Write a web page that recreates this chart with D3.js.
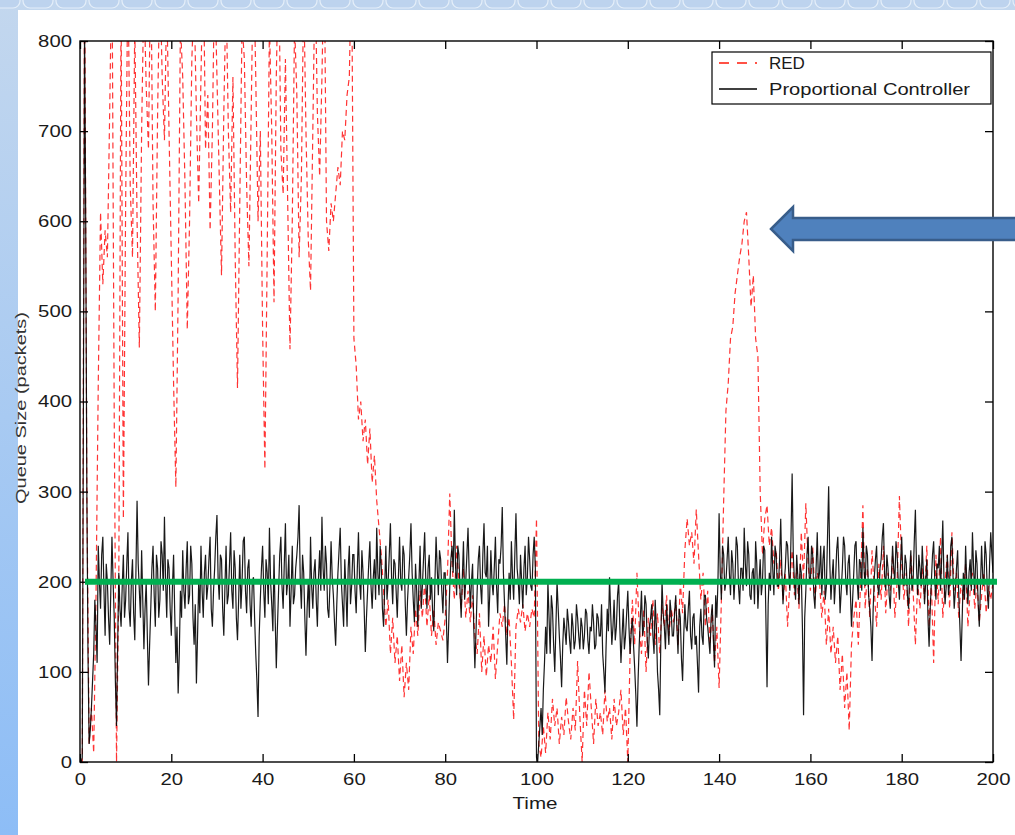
<!DOCTYPE html>
<html><head><meta charset="utf-8">
<script src="https://cdn.jsdelivr.net/npm/d3@7"></script>
<style>body{margin:0;background:#fff}svg{display:block}</style>
</head><body>
<svg id="chart" width="1015" height="835"></svg>
<script>
// ---- data ----
const timeStart = 0, timeEnd = 200;
const redStep = 0.5;   // sampling interval of the RED trace
const pcStep = 0.25;   // sampling interval of the Proportional Controller trace
const xTicks = [0, 20, 40, 60, 80, 100, 120, 140, 160, 180, 200];
const yTicks = [0, 100, 200, 300, 400, 500, 600, 700, 800];
const seriesNames = ["RED", "Proportional Controller"];
const xLabel = "Time";
const yLabel = "Queue Size (packets)";
const targetQueue = 200;

const redQueue = [
0,0,900,300,20,60,10,180,420,610,530,590,560,720,900,380,0,200,850,270,
620,880,640,560,820,600,460,700,860,750,680,900,620,500,720,880,760,690,850,700,
560,420,305,520,820,760,640,480,600,780,850,720,620,760,900,680,740,590,700,880,
760,650,540,720,860,700,610,760,560,415,620,820,780,640,550,720,900,760,600,700,
480,325,560,820,700,510,760,900,680,630,780,620,458,600,820,740,560,650,860,700,
580,523,700,880,720,650,760,900,600,567,620,600,630,660,640,700,690,740,760,900,
470,440,380,400,356,380,330,370,310,340,290,260,230,190,150,180,120,160,110,140,
90,130,72,110,80,150,120,170,140,190,160,200,150,185,140,170,130,155,145,135,
160,210,298,220,180,240,200,170,215,160,190,155,185,140,120,165,100,140,95,130,
110,150,92,130,165,150,175,140,160,110,47,150,170,155,175,145,165,150,170,160,
270,20,5,40,10,55,25,70,40,60,20,50,30,72,45,25,60,35,112,50,
0,80,40,100,60,20,70,40,55,30,80,45,60,25,70,40,55,80,30,60,
0,120,180,130,210,150,120,170,100,160,140,180,130,165,120,175,150,185,140,170,
155,180,130,200,165,235,270,240,255,220,280,230,180,210,150,190,130,170,110,150,
82,180,290,390,420,470,483,520,540,560,575,600,610,560,505,540,470,450,300,230,
270,285,240,260,220,235,190,225,180,210,150,200,235,185,215,170,255,200,287,220,
190,240,180,210,200,160,190,130,170,120,150,110,140,80,120,60,100,35,130,160,
180,130,200,285,170,215,160,235,190,150,220,180,240,165,210,190,230,160,200,295,
220,180,210,150,230,190,130,200,170,215,180,240,150,200,110,230,175,250,160,200,
230,170,255,190,210,160,200,180,220,150,190,210,170,200,155,185,210,165,195,180,
200];

const pcQueue = [
0,0,5,400,820,600,300,120,20,35,60,90,120,180,150,110,240,200,170,230,250,190,140,220,200,160,130,190,250,200,160,90,40,130,210,170,150,195,230,160,
180,220,255,170,150,200,225,165,135,210,290,220,190,160,235,180,125,170,200,140,85,130,170,215,240,185,150,230,215,160,180,245,230,190,272,200,160,225,215,170,
140,195,230,165,110,150,76,120,190,160,235,190,170,215,245,175,185,240,220,160,130,175,87,140,200,165,240,190,160,210,230,180,195,225,250,170,150,190,215,250,
274,205,180,230,225,170,140,195,240,175,185,220,255,190,170,235,215,160,135,180,230,170,200,245,250,190,165,215,225,175,150,200,205,160,120,90,50,140,180,215,
240,190,160,225,210,175,260,200,175,145,230,160,104,150,190,230,250,195,170,220,265,185,200,230,150,190,240,175,185,215,230,250,285,200,170,230,210,160,118,170,
200,160,250,195,170,210,225,180,150,205,235,190,272,215,190,240,220,170,160,195,245,205,185,155,129,175,210,235,260,200,175,150,225,190,150,215,240,175,195,230,
230,190,165,215,255,200,180,235,210,170,122,160,190,220,245,195,170,205,225,180,260,210,185,240,215,170,150,195,240,180,200,230,265,205,175,225,220,190,160,205,
250,200,190,240,230,175,140,180,205,230,265,210,180,155,220,190,150,200,240,170,195,225,255,200,170,215,230,180,205,165,145,200,250,215,185,235,225,190,165,210,
210,160,110,150,195,225,240,210,280,220,185,240,230,190,160,205,245,180,200,230,260,210,170,200,220,150,104,145,190,225,240,195,175,230,265,210,205,240,150,185,
235,200,185,215,250,195,165,225,220,240,283,210,175,140,108,170,210,180,245,205,180,230,276,215,200,175,230,200,170,215,240,185,205,250,225,195,190,230,250,215,
5,0,20,40,60,30,80,110,150,120,200,160,120,185,170,130,100,150,200,170,140,115,83,130,160,145,130,170,155,135,120,165,150,125,135,175,160,140,125,160,
150,125,140,170,165,135,120,150,145,175,155,125,130,165,160,140,140,175,120,100,77,130,170,145,205,165,130,150,180,135,150,185,200,150,110,140,170,125,140,165,
190,150,120,145,160,130,105,75,39,90,130,160,190,140,150,185,175,135,115,150,160,175,140,120,180,150,100,80,52,140,200,165,150,125,175,150,130,180,165,140,
140,165,185,150,120,170,160,115,90,140,175,150,145,170,190,140,125,160,165,130,140,110,77,150,170,140,130,185,185,160,150,135,120,160,175,135,105,185,160,200,
276,210,180,240,230,190,200,225,250,210,185,235,220,180,205,250,240,195,175,215,215,190,260,220,195,245,230,185,180,210,215,175,245,220,170,200,225,185,200,240,
235,160,83,175,210,190,250,215,185,240,230,195,195,225,270,210,175,200,215,245,240,210,190,250,320,230,200,180,230,205,175,220,210,150,52,160,190,230,250,205,
200,240,230,185,170,215,255,200,210,240,185,225,240,180,195,250,306,220,180,205,225,175,200,235,250,210,165,190,215,250,240,200,185,220,230,190,150,180,210,240,
245,200,180,225,220,190,260,215,195,240,230,185,170,150,112,170,205,225,240,195,185,215,225,250,265,210,190,230,215,185,170,205,240,215,200,245,230,200,180,220,
250,205,195,230,220,185,170,210,235,190,200,245,280,215,185,230,215,195,240,210,175,200,225,160,128,170,200,230,245,200,180,220,215,240,190,225,268,205,175,195,
230,185,200,240,250,205,170,190,215,235,185,150,112,160,210,180,240,200,175,210,225,190,255,215,185,235,220,175,150,195,240,205,195,245,230,190,170,220,255,230,
210];

// ---- layout ----
const W = 1015, H = 835;
const plot = {left: 80, right: 993, top: 41, bottom: 762};
const svg = d3.select("#chart");
const FONT = "'Liberation Sans', Arial, Helvetica, sans-serif";

// slide background
const defs = svg.append("defs");
const grad = defs.append("linearGradient").attr("id", "bg").attr("x1", 0).attr("y1", 0).attr("x2", 0).attr("y2", 1);
grad.append("stop").attr("offset", "0%").attr("stop-color", "#c3d7ee");
grad.append("stop").attr("offset", "100%").attr("stop-color", "#8dbdf6");
svg.append("rect").attr("width", W).attr("height", H).attr("fill", "url(#bg)");
const bubbles = d3.range(-10, W, 33);
svg.append("g").selectAll("rect").data(bubbles).join("rect")
  .attr("x", d => d).attr("y", -8).attr("width", 30).attr("height", 16).attr("rx", 7)
  .attr("fill", "#bdd3ee").attr("stroke", "#e4eef9").attr("stroke-width", 1.2);
svg.append("rect").attr("x", 18).attr("y", 10).attr("width", W - 18).attr("height", H - 10).attr("fill", "#fff");

const x = d3.scaleLinear().domain([timeStart, timeEnd]).range([plot.left, plot.right]);
const y = d3.scaleLinear().domain([0, 800]).range([plot.bottom, plot.top]);

defs.append("clipPath").attr("id", "clip").append("rect")
  .attr("x", plot.left).attr("y", plot.top).attr("width", plot.right - plot.left).attr("height", plot.bottom - plot.top);

const lineFor = step => d3.line().x((d, i) => x(timeStart + i * step)).y(d => y(d));

const g = svg.append("g").attr("clip-path", "url(#clip)");
g.append("path").datum(redQueue).attr("d", lineFor(redStep))
  .attr("fill", "none").attr("stroke", "#ff0000").attr("stroke-width", 1.2)
  .attr("stroke-dasharray", "6,4").attr("stroke-opacity", 0.8);
g.append("path").datum(pcQueue).attr("d", lineFor(pcStep))
  .attr("fill", "none").attr("stroke", "#000").attr("stroke-width", 1.2).attr("stroke-opacity", 0.9);

// axes (inward ticks on all sides)
function styleTexts(sel) {
  sel.selectAll("text").attr("font-family", FONT).attr("font-size", 17).attr("fill", "#1a1a1a")
    .attr("textLength", d => String(d).length * 11.3).attr("lengthAdjust", "spacingAndGlyphs");
  sel.select(".domain").remove();
  sel.selectAll("line").attr("stroke", "#000").attr("stroke-width", 1.3);
}
svg.append("g").attr("transform", `translate(0,${plot.bottom})`)
  .call(d3.axisBottom(x).tickValues(xTicks).tickSizeInner(-8).tickSizeOuter(0).tickPadding(11))
  .call(styleTexts);
svg.append("g").attr("transform", `translate(${plot.left},0)`)
  .call(d3.axisLeft(y).tickValues(yTicks).tickSizeInner(-8).tickSizeOuter(0).tickPadding(8))
  .call(styleTexts);
svg.append("g").attr("transform", `translate(0,${plot.top})`)
  .call(d3.axisTop(x).tickValues(xTicks).tickSizeInner(-8).tickSizeOuter(0).tickFormat(""))
  .call(styleTexts);
svg.append("g").attr("transform", `translate(${plot.right},0)`)
  .call(d3.axisRight(y).tickValues(yTicks).tickSizeInner(-8).tickSizeOuter(0).tickFormat(""))
  .call(styleTexts);

svg.append("rect").attr("x", plot.left).attr("y", plot.top)
  .attr("width", plot.right - plot.left).attr("height", plot.bottom - plot.top)
  .attr("fill", "none").attr("stroke", "#000").attr("stroke-width", 1.4);

// axis labels
svg.append("text").attr("x", 535).attr("y", 809).attr("text-anchor", "middle")
  .attr("font-family", FONT).attr("font-size", 17).attr("fill", "#1a1a1a")
  .attr("textLength", 45).attr("lengthAdjust", "spacingAndGlyphs").text(xLabel);
svg.append("text").attr("transform", "translate(26,408) rotate(-90)").attr("text-anchor", "middle")
  .attr("font-family", FONT).attr("font-size", 15).attr("fill", "#333")
  .attr("textLength", 192).attr("lengthAdjust", "spacingAndGlyphs").text(yLabel);

// legend
const lg = svg.append("g");
lg.append("rect").attr("x", 712).attr("y", 52).attr("width", 279).attr("height", 52)
  .attr("fill", "#fff").attr("stroke", "#000").attr("stroke-width", 1.2);
lg.append("line").attr("x1", 719).attr("x2", 757).attr("y1", 63).attr("y2", 63)
  .attr("stroke", "#ff1a0a").attr("stroke-width", 1.4).attr("stroke-dasharray", "10,8");
lg.append("line").attr("x1", 719).attr("x2", 757).attr("y1", 89).attr("y2", 89)
  .attr("stroke", "#000").attr("stroke-width", 1.3);
lg.append("text").attr("x", 769).attr("y", 69).attr("font-family", FONT).attr("font-size", 17)
  .attr("fill", "#1a1a1a").text(seriesNames[0]);
lg.append("text").attr("x", 769).attr("y", 95).attr("font-family", FONT).attr("font-size", 16)
  .attr("fill", "#1a1a1a").attr("textLength", 201).attr("lengthAdjust", "spacingAndGlyphs").text(seriesNames[1]);

// target line (green)
svg.append("line").attr("x1", 85).attr("x2", 997).attr("y1", y(targetQueue)).attr("y2", y(targetQueue))
  .attr("stroke", "#00b050").attr("stroke-width", 6);

// annotation arrow
svg.append("path")
  .attr("d", "M771,229 L793,207 L793,218 L1020,218 L1020,240 L793,240 L793,251 Z")
  .attr("fill", "#4f81bd").attr("stroke", "#385d8a").attr("stroke-width", 2.5).attr("stroke-linejoin", "miter");
</script>
</body></html>
